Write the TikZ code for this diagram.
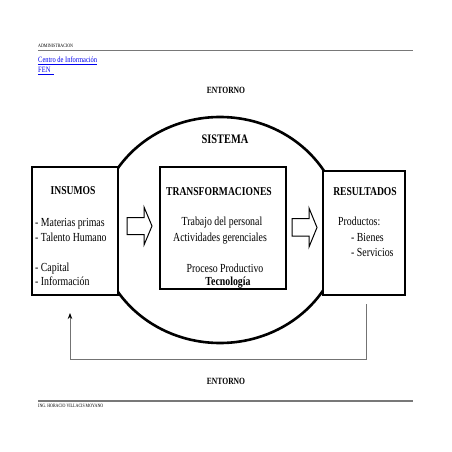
\documentclass[tikz,border=0pt]{standalone}
\usepackage{fontspec}
\setmainfont{Liberation Serif}[FakeStretch=0.8]
\usetikzlibrary{arrows.meta}
\definecolor{linkblue}{RGB}{0,0,238}
\definecolor{rulegray}{RGB}{120,120,120}
\begin{document}
\begin{tikzpicture}[x=1pt,y=-1pt,
  box/.style={draw=black,line width=1.3pt,fill=white,inner sep=0pt},
  hdr/.style={font=\fontsize{12}{14}\selectfont\bfseries,anchor=base,inner sep=0pt},
  body/.style={font=\fontsize{12.3}{14}\selectfont,inner sep=0pt},
  tiny/.style={font=\fontsize{5}{5}\selectfont,anchor=base west,inner sep=0pt,text=black},
  link/.style={font=\fontsize{8.1}{9}\selectfont,anchor=base west,inner sep=0pt,text=linkblue},
  blockarrow/.style={draw=black,line width=1pt,fill=white,line join=miter},
  feedback/.style={draw=black!55,line width=0.8pt}
]
\useasboundingbox (0,0) rectangle (452,452);

% header
\node[tiny] (adm) at (38,48) {ADMINISTRACION};
\draw[rulegray,line width=1.5pt] (38,50.5) -- (413,50.5);
\node[link] (centro) at (38,63) {\underline{Centro de Información}};
\node[link] (fen) at (38,73) {\underline{FEN\kern4pt}};
\node[font=\fontsize{9.5}{11}\selectfont\bfseries,anchor=base,inner sep=0pt] (ent1) at (226,93) {ENTORNO};

% system ellipse
\draw[line width=2.6pt] (220,230) ellipse [x radius=122, y radius=113];
\node[font=\fontsize{13}{15}\selectfont\bfseries,anchor=base,inner sep=0pt] (sis) at (225,143) {SISTEMA};

% boxes
\node[box,minimum width=86,minimum height=128] (ins) at (75,231) {};
\node[box,minimum width=126,minimum height=122] (tra) at (223,228) {};
\node[box,minimum width=82,minimum height=124] (res) at (364,233) {};

% INSUMOS
\node[hdr] (insh) at (73,194) {INSUMOS};
\node[body,anchor=base west] (i1) at (35,226) {- Materias primas};
\node[body,anchor=base west] (i2) at (35,241) {- Talento Humano};
\node[body,anchor=base west] (i3) at (35,271) {- Capital};
\node[body,anchor=base west] (i4) at (35,285) {- Información};

% TRANSFORMACIONES
\node[hdr] (trah) at (219,195) {TRANSFORMACIONES};
\node[body,anchor=base] (t1) at (222,225) {Trabajo del personal};
\node[body,anchor=base] (t2) at (220,241) {Actividades gerenciales};
\node[body,anchor=base] (t3) at (225,272) {Proceso Productivo};
\node[body,anchor=base,font=\fontsize{12.3}{14}\selectfont\bfseries] (t4) at (228,285) {Tecnología};

% RESULTADOS
\node[hdr] (resh) at (365,195) {RESULTADOS};
\node[body,anchor=base west] (r1) at (338,225) {Productos:};
\node[body,anchor=base west] (r2) at (351,241) {- Bienes};
\node[body,anchor=base west] (r3) at (351,256) {- Servicios};

% block arrows
\draw[blockarrow] (127,217.5) -- (144,217.5) -- (144,207) -- (152,226) -- (144,245) -- (144,234.5) -- (127,234.5) -- cycle;
\draw[blockarrow] (292,218.5) -- (309,218.5) -- (309,208) -- (317,227.5) -- (309,247) -- (309,236) -- (292,236) -- cycle;

% feedback
\coordinate (fbstart) at (366,304);
\coordinate (fbend) at (70,313);
\draw[feedback,-{Stealth[length=6pt,width=4.5pt,black]}] (fbstart) -- ++(0,55) -| (fbend);

\node[font=\fontsize{9.5}{11}\selectfont\bfseries,anchor=base,inner sep=0pt] (ent2) at (226,384) {ENTORNO};

% footer
\draw[rulegray,line width=1.5pt] (38,401) -- (413,401);
\node[tiny] (ing) at (38,407.5) {ING. HORACIO VILLACIS MOYANO};
\end{tikzpicture}
\end{document}
